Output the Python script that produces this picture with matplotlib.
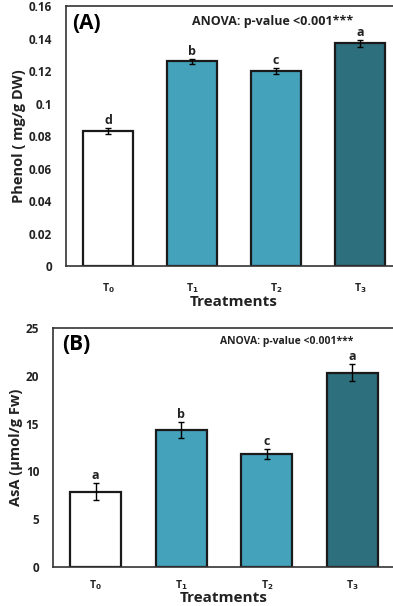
import matplotlib.pyplot as plt

plt.rcParams['font.family'] = ['Open Sans', 'DejaVu Sans']
plt.rcParams['font.weight'] = 'bold'

# data
treatments = ['T$_0$', 'T$_1$', 'T$_2$', 'T$_3$']
phenol = [0.083, 0.126, 0.120, 0.137]
phenol_err = [0.002, 0.0015, 0.002, 0.002]
phenol_letters = ['d', 'b', 'c', 'a']
asa = [7.9, 14.3, 11.8, 20.3]
asa_err = [0.85, 0.85, 0.5, 0.9]
asa_letters = ['a', 'b', 'c', 'a']

colors = ['white', '#44a2ba', '#44a2ba', '#2d6f7c']

fig = plt.figure(figsize=(3.93, 6.06), dpi=100)
axA = fig.add_axes([0.168, 0.561, 0.855, 0.429])
axB = fig.add_axes([0.135, 0.064, 0.87, 0.395])


def draw(ax, vals, errs, letters, ylim, yticks, ylabels, ylabel, tag, tag_x,
         anova_x, anova_size, lab_pad, tick_pad):
    x = range(len(vals))
    ax.bar(x, vals, width=0.6, color=colors, edgecolor='#1a1a1a', linewidth=1.6, zorder=2)
    ax.errorbar(x, vals, yerr=errs, fmt='none', ecolor='black', elinewidth=1,
                capsize=2.5, capthick=1, zorder=3)
    for i, v in enumerate(vals):
        ax.text(i, v + errs[i] + ylim * 0.004, letters[i], ha='center', va='bottom',
                fontsize=9, fontweight='bold', color='#222222')
    ax.set_xlim(-0.5, 3.5)
    ax.set_ylim(0, ylim)
    ax.set_yticks(yticks)
    ax.set_yticklabels(ylabels, fontsize=8.5, fontweight='bold', color='#222222')
    ax.set_xticks(list(x))
    ax.set_xticklabels(treatments, fontsize=7.5, fontweight='bold', color='#222222')
    ax.tick_params(axis='both', length=0)
    ax.tick_params(axis='x', pad=tick_pad)
    ax.tick_params(axis='y', pad=10)
    for s in ax.spines.values():
        s.set_linewidth(1.2)
        s.set_color('#333333')
    ax.set_ylabel(ylabel, fontsize=10.5, fontweight='bold', color='#222222', labelpad=2)
    ax.set_xlabel('Treatments', fontsize=11, fontweight='bold', color='#222222', labelpad=lab_pad)
    ax.text(tag_x, 0.975, tag, transform=ax.transAxes, ha='left', va='top',
            fontsize=15, fontweight='bold')
    ax.text(anova_x, 0.965, 'ANOVA: p-value <0.001***', transform=ax.transAxes,
            ha='center', va='top', fontsize=anova_size, fontweight='bold', color='#222222')


draw(axA, phenol, phenol_err, phenol_letters, 0.16,
     [0, 0.02, 0.04, 0.06, 0.08, 0.1, 0.12, 0.14, 0.16],
     ['0', '0.02', '0.04', '0.06', '0.08', '0.1', '0.12', '0.14', '0.16'],
     'Phenol ( mg/g DW)', '(A)', 0.018, 0.616, 9, 0, 11)
draw(axB, asa, asa_err, asa_letters, 25,
     [0, 5, 10, 15, 20, 25], ['0', '5', '10', '15', '20', '25'],
     'AsA (µmol/g Fw)', '(B)', 0.026, 0.684, 7.5, -1, 8)

fig.savefig('out.png', dpi=100)
